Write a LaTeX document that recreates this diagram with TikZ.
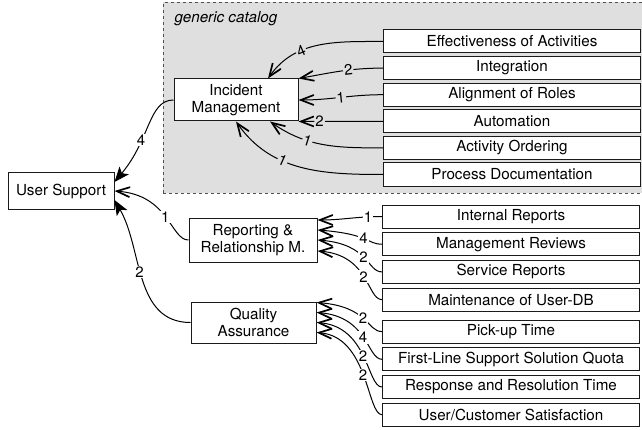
\documentclass[tikz,border=0pt]{standalone}
\usepackage{fontspec}
\setmainfont{TeX Gyre Heros}
\usetikzlibrary{positioning, arrows.meta}
\definecolor{catalogGrey}{HTML}{DFDFDF}
\definecolor{frameGrey}{HTML}{505050}
\definecolor{inkGrey}{HTML}{1A1A1A}
\tikzset{
  box/.style    = {draw=inkGrey, fill=white, align=center, text=black,
                   font=\fontsize{15.2}{17.5}\selectfont, inner sep=2pt, line width=1pt},
  parent/.style = {box, minimum height=42pt},
  leaf/.style   = {box, minimum width=257pt, minimum height=23pt},
  zone/.style   = {draw=frameGrey, fill=catalogGrey, dashed, line width=1pt},
  fl/.style     = {-{Straight Barb[length=13pt,width=10pt,line width=1.7pt]}, draw=black, line width=1pt},
  flf/.style    = {-{Stealth[length=15pt,width=12pt,inset=3.5pt]}, draw=black, line width=1pt},
  wt/.style     = {font=\fontsize{15}{15}\selectfont, text=black, fill=white, inner sep=1pt},
  wtc/.style    = {wt, fill=catalogGrey, sloped}
}

\begin{document}
\begin{tikzpicture}[x=1pt, y=1pt]
  \useasboundingbox (0,0) rectangle (642,429);

  % generic catalog
  \draw[zone] (163,236) rectangle (643,426.5);
  \node[font=\fontsize{15.2}{17.5}\selectfont\itshape, anchor=base west] (catlbl) at (171,406) {generic catalog};

  \node[box, minimum width=106pt, minimum height=36pt] (us) at (61,238) {User Support};
  \node[parent, minimum width=124pt] (im) at (236,329) {Incident\\Management};
  \node[parent, minimum width=128pt, minimum height=44pt] (rr) at (253,189) {Reporting \&\\Relationship M.};
  \node[parent, minimum width=125pt, minimum height=41pt] (qa) at (253.5,106.5) {Quality\\Assurance};

  \node[leaf] (eff) at (512,387.5) {Effectiveness of Activities};
  \node[leaf, below=2.6pt of eff] (integ) {Integration};
  \node[leaf, below=2.6pt of integ] (roles) {Alignment of Roles};
  \node[leaf, below=2.6pt of roles] (auto) {Automation};
  \node[leaf, below=2.6pt of auto] (order) {Activity Ordering};
  \node[leaf, below=2.6pt of order] (procdoc) {Process Documentation};

  \node[leaf] (intrep) at (511,212.5) {Internal Reports};
  \node[leaf, below=3.7pt of intrep] (mgmt) {Management Reviews};
  \node[leaf, below=3.7pt of mgmt] (servrep) {Service Reports};
  \node[leaf, below=3.7pt of servrep] (userdb) {Maintenance of User-DB};
  \node[leaf, below=8pt of userdb] (pickup) {Pick-up Time};
  \node[leaf, below=3.7pt of pickup] (fls) {First-Line Support Solution Quota};
  \node[leaf, below=3.7pt of fls] (resp) {Response and Resolution Time};
  \node[leaf, below=3.7pt of resp] (satis) {User/Customer Satisfaction};

  % catalog -> incident management
  \draw[fl] (eff.west) to[out=180,in=55] node[wtc,pos=.65] {4} ([xshift=32pt]im.north);
  \draw[fl] (integ.west) to[out=180,in=10] node[wtc,pos=.4] {2} (im.north east);
  \draw[fl] (roles.west) to[out=180,in=0] node[wtc,pos=.5] {1} (im.east);
  \draw[fl] (auto.west) -- node[wtc,pos=.75] {2} (im.south east);
  \draw[fl] (order.west) to[out=180,in=-35] node[wtc,pos=.65] {1} ([xshift=34pt]im.south);
  \draw[fl] (procdoc.west) to[out=180,in=-55] node[wtc,pos=.62] {1} (im.south);

  % top level
  \draw[flf] (im.west) .. controls +(-25,0) and +(36,43) .. node[wt,pos=.65] {4} ([yshift=9pt]us.east);
  \draw[fl] (rr.west) .. controls +(-18,0) and +(55,-4) .. node[wt] {1} (us.east);
  \draw[flf] (qa.west) to[out=180,in=-60] node[wt,pos=.55] {2} ([yshift=-9pt]us.east);

  % indicators -> reporting / quality
  \draw[fl] (intrep.west) to[out=180,in=0] node[wt,pos=.2] {1} ([yshift=20pt]rr.east);
  \foreach \a/\b/\s/\w in {mgmt/rr/10/4, servrep/rr/0/2, userdb/rr/-11/2,
      pickup/qa/20/2, fls/qa/10/4, resp/qa/0/2, satis/qa/-10/2}
    \draw[fl] (\a.west) .. controls +(-15,0) and +(52,-4) .. node[wt] {\w} ([yshift=\s pt]\b.east);
\end{tikzpicture}
\end{document}
